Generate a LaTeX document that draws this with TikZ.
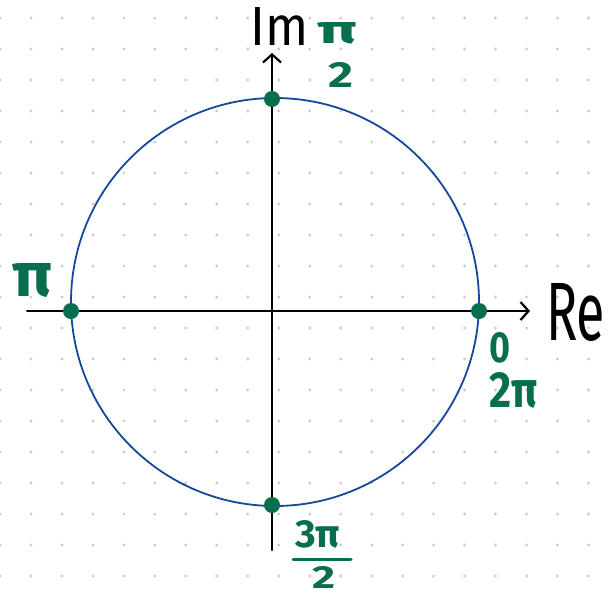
\documentclass[tikz,border=0pt]{standalone}
\usepackage{fontspec}
\setmainfont{Fira Sans}
\usepackage{graphicx}
\usetikzlibrary{arrows.meta}
\definecolor{circblue}{RGB}{22,72,156}
\definecolor{markgreen}{RGB}{8,110,80}
\definecolor{griddot}{RGB}{204,204,204}

\begin{document}
\begin{tikzpicture}[
  x=1pt, y=-1pt,
  axis/.style={line width=2pt, line cap=round,
    -{Straight Barb[length=8pt,width=18pt,line width=2.2pt]}},
  unit/.style={draw=circblue, line width=1.8pt},
  ptdot/.style={circle, fill=markgreen, inner sep=0pt, minimum size=16pt},
  axlbl/.style={anchor=base west, inner sep=0pt, text=black},
  anglbl/.style={anchor=base west, inner sep=0pt, text=markgreen, font=\bfseries},
]
  \useasboundingbox (0,0) rectangle (609,595);

  % dotted paper
  \foreach \i in {0,...,19}
    \foreach \j in {0,...,18}
      \fill[griddot] (30.97*\i, 18+31*\j) circle[radius=1.6];

  % unit circle
  \draw[unit] (275,302) circle[radius=204];

  % axes
  \coordinate (xl) at (27,311);
  \coordinate (xr) at (530,311);
  \coordinate (yb) at (272,550);
  \coordinate (yt) at (272,53);
  \draw[axis] (xl) -- (xr);
  \draw[axis] (yb) -- (yt);

  % points on the circle
  \node[ptdot] (p0)   at (479,311) {};
  \node[ptdot] (p90)  at (272,99)  {};
  \node[ptdot] (p180) at (71,311)  {};
  \node[ptdot] (p270) at (272,505) {};

  % axis names
  \node[axlbl] (im) at (250,45)  {\resizebox{58pt}{38pt}{Im}};
  \node[axlbl] (re) at (546,340) {\resizebox{59pt}{57pt}{Re}};

  % angles
  \node[anglbl] (a90n)  at (317,43)  {\resizebox{40pt}{21pt}{π}};
  \node[anglbl] (a90d)  at (328,87)  {\resizebox{25pt}{25pt}{2}};
  \node[anglbl] (a180)  at (12,296)  {\resizebox{40pt}{33pt}{π}};
  \node[anglbl] (a0)    at (489,362) {\resizebox{21pt}{30pt}{0}};
  \node[anglbl] (a360)  at (489,407) {\resizebox{48pt}{35pt}{2π}};
  \node[anglbl] (a270n) at (295,547) {\resizebox{45pt}{27pt}{3π}};
  \node[anglbl] (a270d) at (312,588) {\resizebox{23pt}{22pt}{2}};
  \coordinate (barl) at (293,559);
  \coordinate (barr) at (351,559);
  \draw[markgreen, line width=3pt, line cap=round] (barl) -- (barr);
\end{tikzpicture}
\end{document}
